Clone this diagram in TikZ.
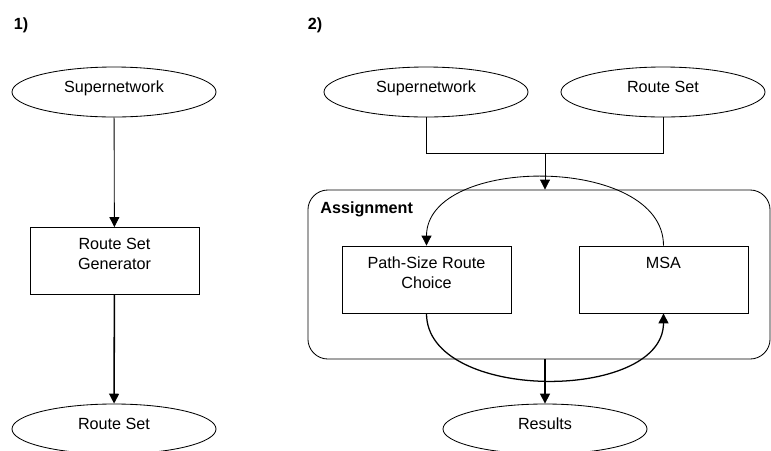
\documentclass[tikz,border=0pt]{standalone}
\usepackage{fontspec}
\setmainfont{Liberation Sans}
\usetikzlibrary{shapes.geometric,arrows.meta}

\begin{document}
\begin{tikzpicture}[x=0.025cm,y=-0.025cm,
   font=\fontsize{11.5pt}{14.2pt}\selectfont,
   every path/.style={line width=0.6pt},
   terminal/.style={draw,ellipse,minimum width=5.1cm,minimum height=1.25cm,inner sep=0pt,
      text height=8.5pt,text depth=8pt},
   procbox/.style={draw,rectangle,minimum width=4.225cm,minimum height=1.675cm,inner sep=0pt},
   boxtext/.style={anchor=north,align=center,inner sep=0pt,yshift=-0.28cm},
   flow/.style={-{Triangle[width=7pt,length=7pt]}},
   heavyflow/.style={flow,line width=1.1pt}]

\useasboundingbox (0,0) rectangle (771,450);

% 1)
\node[font=\fontsize{11.5pt}{14pt}\selectfont\bfseries] (panelA) at (21,25) {1)};
\node[terminal] (supernetA) at (114,92) {Supernetwork};
\node[procbox] (generator) at (114.5,261) {};
\node[boxtext] (generatortext) at (generator.north) {Route Set\\Generator};
\node[terminal] (routesetA) at (114,429) {Route Set};

\draw[flow] (supernetA) -- (generator);
\draw[heavyflow] (generator) -- (routesetA);

% 2)
\node[font=\fontsize{11.5pt}{14pt}\selectfont\bfseries] (panelB) at (315,25) {2)};
\node[terminal] (supernetB) at (426,92) {Supernetwork};
\node[terminal] (routesetB) at (663,92) {Route Set};
\node[draw,rectangle,rounded corners=0.5cm,minimum width=11.55cm,minimum height=4.225cm,inner sep=0pt] (assign) at (539,274.5) {};
\node[anchor=west,font=\fontsize{11.5pt}{14pt}\selectfont\bfseries,inner sep=0pt] (assigntext) at (320,209) {Assignment};
\node[procbox] (pathsize) at (426.5,279.5) {};
\node[boxtext] (pathsizetext) at (pathsize.north) {Path-Size Route\\Choice};
\node[procbox] (msa) at (663.5,279.5) {};
\node[boxtext] (msatext) at (msa.north) {MSA};
\node[terminal] (results) at (545,429) {Results};

\coordinate (join) at (545,153);
\draw (supernetB) |- (join);
\draw (routesetB) |- (join);
\draw[flow] (join) -- (join |- assign.north);

\draw[flow] (msa.north) .. controls +(0,-91) and +(0,-91) .. (pathsize.north);
\draw[flow,line width=0.9pt] (pathsize.south) .. controls +(0,89) and +(0,89) .. (msa.south);

\draw[heavyflow] (assign.south -| results.north) -- (results);

\end{tikzpicture}
\end{document}
